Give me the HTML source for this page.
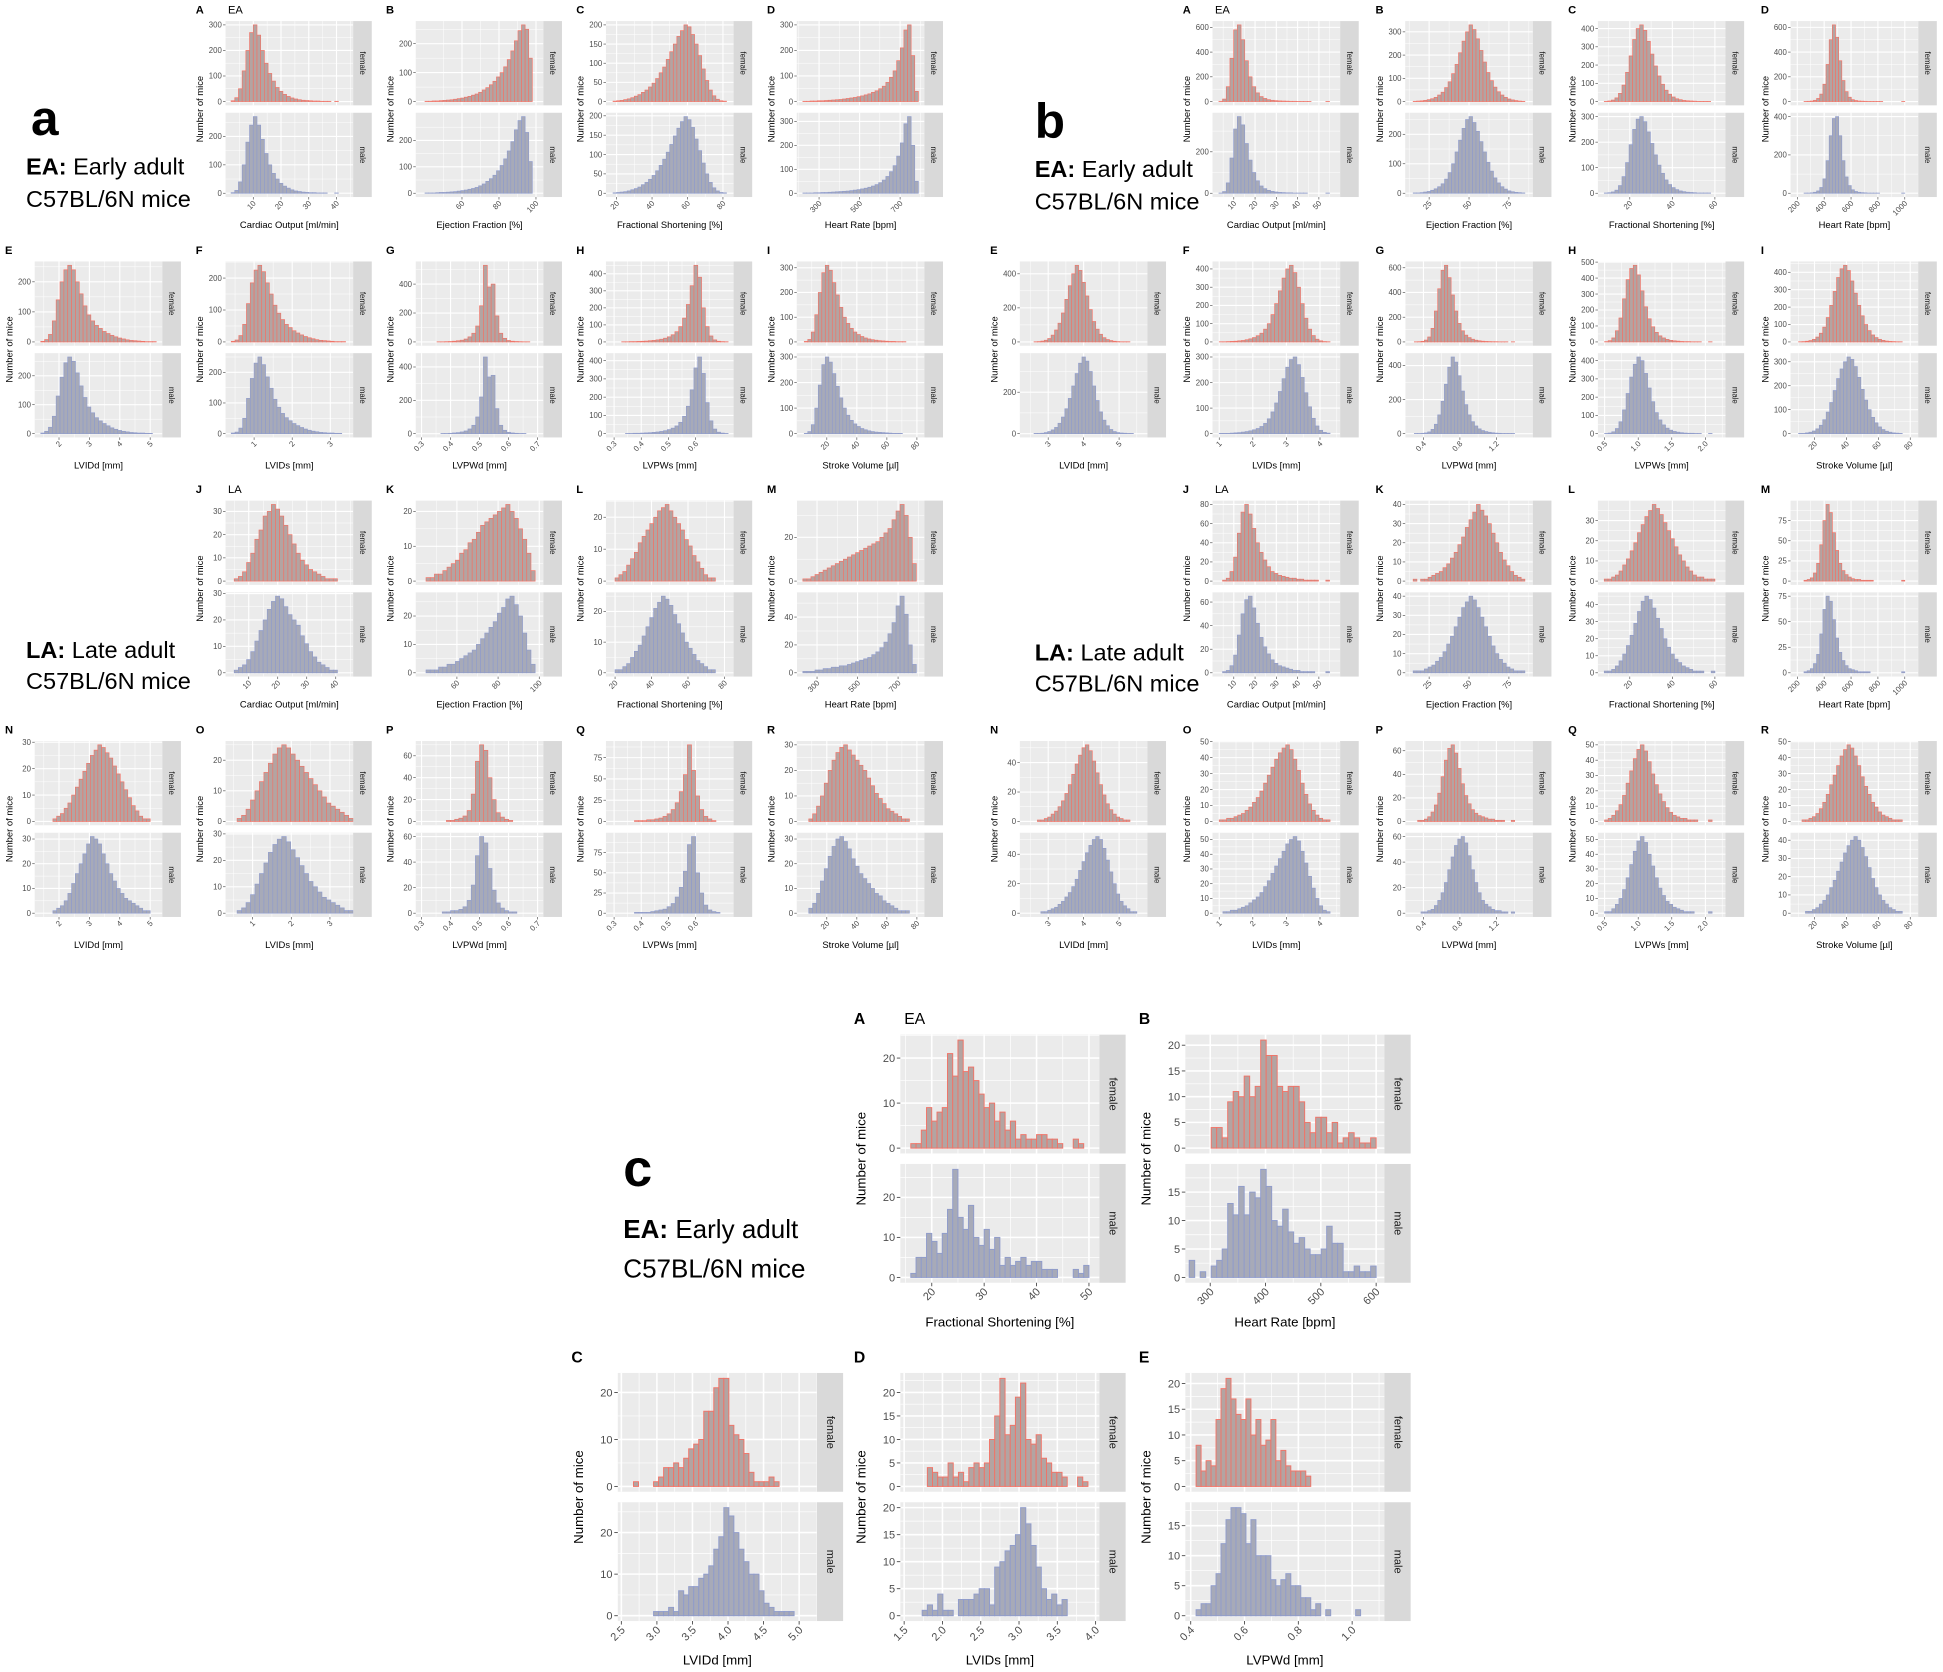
<!DOCTYPE html>
<html><head><meta charset="utf-8"><style>
html,body{margin:0;padding:0;background:#fff;}
svg{display:block;font-family:"Liberation Sans",sans-serif;}
</style></head><body>
<svg id="chart" width="1943" height="1672" viewBox="0 0 1568 1349.3" xmlns="http://www.w3.org/2000/svg">
<g font-family="Liberation Sans, sans-serif" fill="#000">
<text x="25" y="109" font-size="40" font-weight="bold">a</text>
<text x="21" y="141" font-size="19"><tspan font-weight="bold">EA:</tspan> Early adult</text>
<text x="21" y="167" font-size="19">C57BL/6N mice</text>
<text x="21" y="531" font-size="19"><tspan font-weight="bold">LA:</tspan> Late adult</text>
<text x="21" y="556" font-size="19">C57BL/6N mice</text>
<text x="835" y="111" font-size="40" font-weight="bold">b</text>
<text x="835" y="143" font-size="19"><tspan font-weight="bold">EA:</tspan> Early adult</text>
<text x="835" y="169" font-size="19">C57BL/6N mice</text>
<text x="835" y="533" font-size="19"><tspan font-weight="bold">LA:</tspan> Late adult</text>
<text x="835" y="558" font-size="19">C57BL/6N mice</text>
<text x="503" y="957" font-size="42" font-weight="bold">c</text>
<text x="503" y="999" font-size="21"><tspan font-weight="bold">EA:</tspan> Early adult</text>
<text x="503" y="1031" font-size="21">C57BL/6N mice</text>
</g>
</svg>
<script>
// ---------- data: section a, EA ----------
const aA_f=[3,15,50,120,200,270,300,260,200,150,110,80,55,40,28,20,14,10,7,5,4,3,2,2,1,1,1,0,1,0];
const aA_m=[2,10,40,100,180,240,270,240,190,140,100,70,50,35,25,18,12,8,6,4,3,2,2,1,1,1,0,0,1,0];
const aB_f=[1,1,2,2,3,4,5,6,8,10,12,15,18,22,26,32,40,48,58,70,85,100,120,145,175,210,245,265,250,150];
const aB_m=[1,1,1,2,3,3,4,5,6,8,10,12,15,18,22,28,35,45,55,68,85,105,130,160,195,240,275,290,230,120];
const aC_f=[1,2,3,5,7,10,14,18,24,30,38,48,60,75,90,110,130,150,170,185,200,195,175,150,120,85,55,30,15,6,2,1];
const aC_m=[1,2,3,4,6,9,12,16,22,28,36,46,58,72,88,106,126,148,168,185,198,190,170,140,110,78,50,28,14,6,2,1];
const aD_f=[1,1,2,2,3,3,4,5,6,7,8,10,12,14,16,19,22,26,30,36,42,50,60,75,95,120,160,210,280,300,180,40];
const aD_m=[1,1,1,2,2,3,3,4,5,6,7,8,9,11,13,15,18,21,25,30,36,44,55,70,90,115,155,210,290,320,200,50];
const aE_f=[2,8,25,70,140,200,240,255,240,200,160,120,90,70,55,45,35,28,22,17,13,10,7,5,4,3,2,1,1,1];
const aE_m=[2,8,22,60,130,195,245,265,250,210,165,125,92,72,55,44,35,27,20,15,11,8,6,4,3,2,2,1,1,0];
const aF_f=[2,6,20,55,120,185,225,240,220,185,150,115,90,70,55,45,35,28,22,17,13,10,7,5,4,3,2,1,1,1];
const aF_m=[2,5,18,50,115,180,230,250,225,185,148,112,86,66,52,42,33,26,20,15,11,8,6,4,3,2,2,1,1,0];
const aG_f=[0,0,0,0,1,1,2,3,5,8,12,20,35,60,110,250,530,380,400,180,60,25,10,5,3,2,1,1,0,0];
const aG_m=[0,0,0,0,0,1,1,2,4,6,10,16,28,50,100,220,460,340,350,150,50,20,8,4,2,1,1,0,0,0];
const aH_f=[0,0,1,1,2,2,3,4,5,7,9,12,16,22,30,42,60,90,140,220,330,450,380,200,90,35,12,4,2,1];
const aH_m=[0,0,0,1,1,2,2,3,4,5,7,9,12,16,22,30,42,62,95,150,240,360,420,330,170,70,25,8,3,1];
const aI_f=[2,10,40,110,200,280,310,290,240,190,140,100,75,55,40,30,22,16,12,9,7,5,4,3,2,2,1,1,1,0];
const aI_m=[1,8,35,100,190,270,300,280,235,185,140,100,72,52,38,28,20,15,11,8,6,5,4,3,2,1,1,1,0,0];
// section a, LA
const aJ_f=[1,2,4,8,12,18,22,28,30,33,31,28,24,20,16,12,9,7,5,4,3,2,1,1,1,0];
const aJ_m=[1,2,3,5,8,12,16,20,24,27,29,28,25,22,20,18,14,11,8,6,4,3,2,1,1,0];
const aK_f=[1,1,2,2,3,4,5,6,8,9,11,12,14,16,17,18,19,20,21,22,20,18,15,12,8,3];
const aK_m=[1,1,1,2,2,3,3,4,5,6,7,8,10,12,14,16,18,21,23,26,27,24,20,14,8,3];
const aL_f=[1,2,3,5,7,9,12,14,16,18,20,22,23,24,22,20,18,16,13,11,8,6,4,2,1,1];
const aL_m=[1,1,2,3,5,7,9,12,15,18,21,23,25,24,22,19,16,13,10,8,6,4,3,2,1,1];
const aM_f=[1,1,2,3,4,5,6,7,8,9,10,11,12,13,14,15,16,17,18,20,22,24,28,32,35,30,20,8];
const aM_m=[1,1,1,2,2,3,3,4,4,5,5,6,7,8,9,10,11,13,15,18,22,28,36,48,55,42,20,6];
const aN_f=[1,2,3,5,7,10,13,16,19,22,25,27,29,28,26,24,21,18,15,12,9,6,4,2,1,1];
const aN_m=[1,2,3,5,8,12,16,20,24,28,31,30,28,24,20,16,13,10,8,6,5,4,3,2,1,1];
const aO_f=[1,2,4,7,10,13,16,19,22,24,25,24,22,20,18,16,14,12,10,8,6,5,4,3,2,1];
const aO_m=[1,2,4,7,11,15,19,23,26,28,29,27,24,21,18,15,12,10,8,6,5,4,3,2,1,1];
const aP_f=[0,0,0,0,0,0,1,1,2,3,5,10,25,55,70,65,40,20,8,4,2,1,0,0,0,0,0,0];
const aP_m=[0,0,0,0,0,1,1,2,2,3,5,10,22,45,60,55,35,18,8,4,2,1,1,0,0,0,0,0];
const aQ_f=[0,0,0,0,0,1,1,1,2,2,3,4,6,9,14,22,35,55,90,60,30,14,6,3,1,0,0,0];
const aQ_m=[0,0,0,0,0,1,1,1,1,2,3,4,5,8,12,20,32,52,85,95,50,25,10,4,2,1,0,0];
const aR_f=[1,3,6,10,15,20,24,27,29,30,28,26,24,22,20,17,14,11,9,7,5,4,3,2,1,1];
const aR_m=[2,4,8,13,18,23,27,30,31,29,26,22,19,16,14,12,10,8,7,5,4,3,2,1,1,1];
// ---------- section b, EA ----------
const bA_f=[2,20,120,350,580,620,500,330,200,120,70,40,25,15,10,7,5,4,3,2,2,1,1,1,1,0,0,0,0,1];
const bA_m=[1,8,50,170,310,370,330,240,160,100,60,35,22,14,9,6,4,3,2,2,1,1,1,1,0,0,0,0,0,1];
const bB_f=[1,2,3,5,8,12,18,28,40,60,85,120,160,210,260,300,330,310,270,220,170,125,90,62,42,28,18,11,7,4,2,1];
const bB_m=[1,1,2,4,6,10,15,22,32,48,70,100,140,180,220,250,260,240,210,175,140,105,75,52,35,22,14,8,5,3,2,1];
const bC_f=[1,3,8,20,45,90,160,250,340,400,420,390,330,260,195,140,95,62,40,25,15,10,6,4,3,2,1,1,1,1];
const bC_m=[1,2,5,12,30,65,120,190,250,290,300,280,240,195,150,110,78,52,34,22,14,9,6,4,3,2,1,1,1,1];
const bD_f=[1,2,4,10,25,60,140,300,500,620,520,330,170,80,35,15,8,4,3,2,1,1,1,1,1,0,0,0,0,0,0,1];
const bD_m=[1,1,2,5,12,30,75,170,300,390,400,300,170,85,40,18,9,5,3,2,1,1,1,1,0,0,0,0,0,0,0,1];
const bE_f=[1,2,5,10,20,40,70,110,170,250,330,400,450,420,350,270,190,120,75,45,25,14,8,4,2,1,1,1,0,0];
const bE_m=[1,1,2,5,10,18,30,50,80,120,170,230,290,340,370,350,300,230,160,105,65,38,20,10,5,3,2,1,1,0];
const bF_f=[1,1,2,3,4,6,8,12,17,24,34,48,70,100,150,210,280,350,400,420,380,300,210,130,70,35,15,6,2,1];
const bF_m=[1,1,1,2,3,4,6,8,11,15,20,28,40,58,85,120,165,215,260,290,300,270,220,160,105,60,30,13,5,2];
const bG_f=[1,2,5,15,40,110,250,430,580,620,520,380,250,150,90,55,35,22,14,9,6,4,3,2,2,1,1,1,0,1];
const bG_m=[1,1,2,4,10,25,55,110,190,290,390,450,420,340,250,170,110,70,45,28,18,12,8,5,3,2,1,1,1,1];
const bH_f=[2,8,25,70,150,270,390,460,480,420,320,220,145,95,60,38,25,16,10,7,5,3,2,2,1,1,1,0,0,1];
const bH_m=[1,3,10,28,65,130,220,310,380,420,400,330,250,175,115,75,48,30,19,12,8,5,3,2,2,1,1,0,0,1];
const bI_f=[1,2,4,8,15,28,50,85,140,210,290,370,420,440,410,350,280,210,150,100,65,40,25,15,9,5,3,2,1,1];
const bI_m=[1,1,3,6,11,20,35,58,90,130,180,230,270,300,320,310,280,235,185,140,100,68,45,28,17,10,6,3,2,1];
// section b, LA
const bJ_f=[0,1,3,10,25,50,72,80,70,55,40,30,22,15,10,8,6,5,4,3,3,2,2,1,1,1,1,0,0,1];
const bJ_m=[0,1,2,6,15,32,50,62,65,55,42,30,22,16,11,8,6,5,4,3,2,2,1,1,1,1,0,0,0,1];
const bK_f=[1,0,1,1,2,3,4,5,7,9,12,15,19,23,28,32,36,40,37,34,30,25,20,15,11,8,5,3,2,1];
const bK_m=[1,1,1,2,3,4,6,8,11,15,19,24,29,34,37,40,38,34,29,24,19,14,10,7,5,3,2,1,1,1];
const bL_f=[1,1,2,3,5,8,11,15,19,24,28,32,35,38,36,33,29,25,21,17,13,10,7,5,3,2,2,1,1,1];
const bL_m=[1,1,2,4,7,11,16,22,29,36,42,45,43,38,32,26,20,15,11,8,6,4,3,2,1,1,1,0,0,1];
const bM_f=[1,2,4,10,22,45,75,95,85,60,38,22,13,8,5,3,2,2,1,1,1,1,0,0,0,0,0,0,0,0,0,1];
const bM_m=[1,2,4,9,18,38,62,75,70,52,34,20,12,7,4,3,2,1,1,1,1,0,0,0,0,0,0,0,0,0,0,1];
const bN_f=[0,1,1,2,3,5,7,10,14,19,25,32,39,45,50,52,48,41,33,25,18,12,8,5,3,2,1,1,0,0];
const bN_m=[0,0,1,1,2,3,4,6,8,11,14,18,23,29,35,41,46,50,52,50,44,36,28,20,13,8,5,3,1,1];
const bO_f=[1,1,2,2,3,4,5,7,9,12,15,19,24,29,34,39,43,46,48,45,39,32,24,17,11,7,4,2,1,1];
const bO_m=[0,1,1,2,2,3,4,5,7,9,11,14,18,22,27,32,37,42,47,50,52,49,42,34,25,17,10,5,2,1];
const bP_f=[0,1,1,2,4,8,14,24,38,52,62,65,58,45,32,22,15,10,7,5,4,3,2,2,1,1,1,0,0,1];
const bP_m=[0,0,1,1,2,3,6,10,16,24,34,44,53,58,60,55,45,34,24,16,10,7,5,3,2,2,1,1,0,1];
const bQ_f=[1,2,4,7,11,17,25,33,41,47,50,46,39,31,24,18,13,9,6,4,3,2,2,1,1,1,0,0,0,1];
const bQ_m=[1,1,3,6,10,16,24,33,42,49,52,48,40,32,24,17,12,8,6,4,3,2,1,1,1,0,0,0,0,1];
const bR_f=[0,1,1,2,3,5,8,12,17,23,29,35,41,45,48,46,41,35,28,22,17,12,9,6,4,3,2,1,1,1];
const bR_m=[0,0,1,1,2,3,5,7,10,14,18,23,28,33,37,40,42,40,36,31,25,19,14,10,7,5,3,2,1,1];
// ---------- section c ----------
const cA_f=[1,1,4,9,6,8,9,21,16,24,17,18,15,12,9,10,6,8,4,6,2,3,2,2,3,3,2,2,1,0,0,2,1,0];
const cA_m=[1,5,5,11,9,6,11,17,27,15,12,18,10,8,12,7,10,3,5,3,4,5,3,4,4,2,2,2,0,0,0,2,1,3];
const cB_f=[0,0,0,0,4,4,2,9,11,10,14,10,12,21,18,18,12,11,12,12,9,5,3,6,6,3,5,1,2,3,2,1,1,2];
const cB_m=[3,0,1,0,2,3,5,13,11,16,11,15,14,19,16,10,9,12,8,6,7,5,4,4,5,9,6,6,1,1,2,1,1,2];
const cC_f=[0,1,0,0,0,1,2,4,4,5,4,6,8,9,10,16,16,21,23,23,13,11,10,7,3,1,1,1,2,1,0,0,0,0];
const cC_m=[0,0,0,0,0,1,1,1,2,1,6,5,7,7,9,10,12,16,19,26,24,20,16,13,10,10,6,3,2,1,1,1,1,0];
const cD_f=[0,0,0,4,3,2,2,5,2,3,1,4,5,4,5,10,15,23,11,13,19,22,10,9,11,6,5,3,3,2,0,0,2,1];
const cD_m=[0,0,1,2,1,4,1,1,0,3,3,3,4,5,5,2,9,10,12,13,15,20,17,13,9,5,3,4,2,3,0,0,0,0];
const cE_f=[8,3,5,4,13,19,21,17,14,13,17,10,13,8,9,13,5,7,4,3,3,3,2,0,0,0,0,0,0,0,0,0,0,0];
const cE_m=[1,2,2,5,7,12,16,18,18,17,12,16,10,10,10,6,5,6,7,5,5,3,3,1,2,0,1,0,0,0,0,0,1,0];

// ---------- tick arrays ----------
const T={
 t100_300:[0,100,200,300], t100_200:[0,100,200], t50_200:[0,50,100,150,200], t200_400:[0,200,400],
 t100_400:[0,100,200,300,400], t10_30:[0,10,20,30], t10_20:[0,10,20], t20_40:[0,20,40], t20_60:[0,20,40,60],
 t25_75:[0,25,50,75], t200_600:[0,200,400,600], t100_500:[0,100,200,300,400,500], t20_80:[0,20,40,60,80],
 t10_40:[0,10,20,30,40], t10_50:[0,10,20,30,40,50], t5_20:[0,5,10,15,20]
};
const xt_co=[10,20,30,40], xt_ef=[60,80,100], xt_fs=[20,40,60,80], xt_hr=[300,500,700], xt_lvidd=[2,3,4,5],
 xt_lvids=[1,2,3], xt_lvpwd=[0.3,0.4,0.5,0.6,0.7], xt_lvpws=[0.3,0.4,0.5,0.6], xt_sv=[20,40,60,80];
const xb_co=[10,20,30,40,50], xb_ef=[25,50,75], xb_fs=[20,40,60], xb_hr=[200,400,600,800,1000], xb_lvidd=[3,4,5],
 xb_lvids=[1,2,3,4], xb_lvpwd=[0.4,0.8,1.2], xb_lvpws=[0.5,1.0,1.5,2.0], xb_sv=[20,40,60,80];
const xc_fs=[20,30,40,50], xc_hr=[300,400,500,600], xc_lvidd=[2.5,3.0,3.5,4.0,4.5,5.0], xc_lvids=[1.5,2.0,2.5,3.0,3.5,4.0], xc_lvpwd=[0.4,0.6,0.8,1.0];

const XL={co:'Cardiac Output [ml/min]',ef:'Ejection Fraction [%]',fs:'Fractional Shortening [%]',hr:'Heart Rate [bpm]',
 lvidd:'LVIDd [mm]',lvids:'LVIDs [mm]',lvpwd:'LVPWd [mm]',lvpws:'LVPWs [mm]',sv:'Stroke Volume [µl]'};

// ---------- layout ----------
const ac=[2,156,309.5,463,617], bc=[797,952.5,1108,1263.5,1419], rows=[0,194,387,581];
const panels=[];
function add(sec,letter,group,x0,y0,sx,sy,xk,xt,dom,bins,f,m,ft,mt,dec){
  panels.push({sec,letter,group,x0,y0,sx,sy,xk,xt,dom,bins,f,m,ft,mt,dec:dec||0});
}
// a EA
add('a','A','EA',ac[1],rows[0],1,1,'co',xt_co,[0,46],[2,42],aA_f,aA_m,T.t100_300,T.t100_300);
add('a','B','',ac[2],rows[0],1,1,'ef',xt_ef,[35,104],[40,98],aB_f,aB_m,T.t100_200,T.t100_200);
add('a','C','',ac[3],rows[0],1,1,'fs',xt_fs,[14,86],[18,82],aC_f,aC_m,T.t50_200,T.t50_200);
add('a','D','',ac[4],rows[0],1,1,'hr',xt_hr,[190,820],[220,790],aD_f,aD_m,T.t100_300,T.t100_300);
add('a','E','',ac[0],rows[1],1,1,'lvidd',xt_lvidd,[1.2,5.4],[1.4,5.2],aE_f,aE_m,T.t100_200,T.t100_200);
add('a','F','',ac[1],rows[1],1,1,'lvids',xt_lvids,[0.25,3.6],[0.4,3.4],aF_f,aF_m,T.t100_200,T.t100_200);
add('a','G','',ac[2],rows[1],1,1,'lvpwd',xt_lvpwd,[0.28,0.72],[0.3,0.7],aG_f,aG_m,T.t200_400,T.t200_400,1);
add('a','H','',ac[3],rows[1],1,1,'lvpws',xt_lvpws,[0.27,0.74],[0.3,0.72],aH_f,aH_m,T.t100_400,T.t100_400,1);
add('a','I','',ac[4],rows[1],1,1,'sv',xt_sv,[0,85],[5,75],aI_f,aI_m,T.t100_300,T.t100_300);
// a LA
add('a','J','LA',ac[1],rows[2],1,1,'co',xt_co,[2,46],[5,42],aJ_f,aJ_m,T.t10_30,T.t10_30);
add('a','K','',ac[2],rows[2],1,1,'ef',xt_ef,[40,102],[45,98],aK_f,aK_m,T.t10_20,T.t10_20);
add('a','L','',ac[3],rows[2],1,1,'fs',xt_fs,[15,85],[20,75],aL_f,aL_m,T.t10_20,T.t10_20);
add('a','M','',ac[4],rows[2],1,1,'hr',xt_hr,[200,830],[230,790],aM_f,aM_m,T.t20_40,T.t20_40);
add('a','N','',ac[0],rows[3],1,1,'lvidd',xt_lvidd,[1.2,5.4],[1.8,5],aN_f,aN_m,T.t10_30,T.t10_30);
add('a','O','',ac[1],rows[3],1,1,'lvids',xt_lvids,[0.3,3.6],[0.6,3.6],aO_f,aO_m,T.t10_30,T.t10_30);
add('a','P','',ac[2],rows[3],1,1,'lvpwd',xt_lvpwd,[0.28,0.72],[0.3,0.7],aP_f,aP_m,T.t20_60,T.t20_60,1);
add('a','Q','',ac[3],rows[3],1,1,'lvpws',xt_lvpws,[0.27,0.74],[0.3,0.72],aQ_f,aQ_m,T.t25_75,T.t25_75,1);
add('a','R','',ac[4],rows[3],1,1,'sv',xt_sv,[0,85],[8,75],aR_f,aR_m,T.t10_30,T.t10_30);
// b EA
add('b','A','EA',bc[1],rows[0],1,1,'co',xb_co,[0,60],[3,55],bA_f,bA_m,T.t200_600,T.t200_600);
add('b','B','',bc[2],rows[0],1,1,'ef',xb_ef,[10,90],[15,85],bB_f,bB_m,T.t100_300,T.t100_300);
add('b','C','',bc[3],rows[0],1,1,'fs',xb_fs,[5,65],[8,58],bC_f,bC_m,T.t100_400,T.t100_400);
add('b','D','',bc[4],rows[0],1,1,'hr',xb_hr,[150,1100],[250,1000],bD_f,bD_m,T.t200_600,T.t200_600);
add('b','E','',bc[0],rows[1],1,1,'lvidd',xb_lvidd,[2.2,5.8],[2.6,5.5],bE_f,bE_m,T.t200_400,T.t200_400);
add('b','F','',bc[1],rows[1],1,1,'lvids',xb_lvids,[0.8,4.6],[1,4.3],bF_f,bF_m,T.t100_400,T.t100_400);
add('b','G','',bc[2],rows[1],1,1,'lvpwd',xb_lvpwd,[0.2,1.6],[0.3,1.4],bG_f,bG_m,T.t200_600,T.t200_600,1);
add('b','H','',bc[3],rows[1],1,1,'lvpws',xb_lvpws,[0.4,2.3],[0.5,2.1],bH_f,bH_m,T.t100_500,T.t100_500,1);
add('b','I','',bc[4],rows[1],1,1,'sv',xb_sv,[5,85],[10,75],bI_f,bI_m,T.t100_400,T.t100_400);
// b LA
add('b','J','LA',bc[1],rows[2],1,1,'co',xb_co,[0,60],[3,55],bJ_f,bJ_m,T.t20_80,T.t20_80);
add('b','K','',bc[2],rows[2],1,1,'ef',xb_ef,[10,90],[15,85],bK_f,bK_m,T.t10_40,T.t10_40);
add('b','L','',bc[3],rows[2],1,1,'fs',xb_fs,[5,65],[8,60],bL_f,bL_m,T.t10_40,T.t10_40);
add('b','M','',bc[4],rows[2],1,1,'hr',xb_hr,[150,1100],[250,1000],bM_f,bM_m,T.t25_75,T.t25_75);
add('b','N','',bc[0],rows[3],1,1,'lvidd',xb_lvidd,[2.2,5.8],[2.6,5.5],bN_f,bN_m,T.t20_40,T.t20_40);
add('b','O','',bc[1],rows[3],1,1,'lvids',xb_lvids,[0.8,4.6],[1,4.3],bO_f,bO_m,T.t10_50,T.t10_50);
add('b','P','',bc[2],rows[3],1,1,'lvpwd',xb_lvpwd,[0.2,1.6],[0.3,1.4],bP_f,bP_m,T.t20_60,T.t20_60,1);
add('b','Q','',bc[3],rows[3],1,1,'lvpws',xb_lvpws,[0.4,2.3],[0.5,2.1],bQ_f,bQ_m,T.t10_50,T.t10_50,1);
add('b','R','',bc[4],rows[3],1,1,'sv',xb_sv,[5,85],[10,75],bR_f,bR_m,T.t10_50,T.t10_50);
// c
add('c','A','EA',686,811,1.56,1.41,'fs',xc_fs,[14,52],[16,50],cA_f,cA_m,T.t10_20,T.t10_20);
add('c','B','',916,811,1.56,1.41,'hr',xc_hr,[255,615],[262,600],cB_f,cB_m,T.t5_20,T.t5_20);
add('c','C','',458,1084,1.56,1.41,'lvidd',xc_lvidd,[2.45,5.25],[2.6,5.0],cC_f,cC_m,T.t10_20,T.t10_20,1);
add('c','D','',686,1084,1.56,1.41,'lvids',xc_lvids,[1.45,4.05],[1.6,3.9],cD_f,cD_m,T.t5_20,T.t5_20,1);
add('c','E','',916,1084,1.56,1.41,'lvpwd',xc_lvpwd,[0.38,1.12],[0.42,1.05],cE_f,cE_m,T.t5_20,T.t5_20,1);

// ---------- drawing ----------
const NS='http://www.w3.org/2000/svg';
const svg=document.getElementById('chart');
function mk(tag,parent){const e=document.createElementNS(NS,tag);parent.appendChild(e);return e;}
function at(e,o){for(const k in o)e.setAttribute(k,o[k]);return e;}

panels.forEach(p=>{
  const {x0,y0,sx,sy}=p;
  const fs=Math.min(sx,sy);
  const g=mk('g',svg);
  
  
  const L=x0+26*sx, R=x0+129*sx, S=R+15*fs;
  const xs=v=>L+(v-p.dom[0])/(p.dom[1]-p.dom[0])*(R-L);
  // panel letter
  const lt=mk('text',g); at(lt,{x:x0+2*sx,y:y0+11*sy,'font-size':9*fs,'font-weight':'bold',fill:'#000'}); lt.textContent=p.letter;
  
  
  if(p.group){
    const gt=mk('text',g); at(gt,{x:x0+28*sx,y:y0+11*sy,'font-size':9*fs,fill:'#000'}); gt.textContent=p.group;
    
    
  }
  const facets=[{name:'female',top:y0+17*sy,bot:y0+85*sy,data:p.f,ticks:p.ft,fill:'#B3A4A2',stroke:'#F07468'},
                {name:'male',top:y0+91*sy,bot:y0+159*sy,data:p.m,ticks:p.mt,fill:'#A7AAB8',stroke:'#909CCB'}];
  facets.forEach(fc=>{
    const fg=mk('g',g);
    
    
    const bg=mk('rect',fg); at(bg,{x:L,y:fc.top,width:R-L,height:fc.bot-fc.top,fill:'#EBEBEB'});
    
    
    const h=fc.bot-fc.top, base=fc.bot-0.045*h;
    const dmax=Math.max(...fc.data)*1.05;
    const ys=v=>base-v/dmax*(base-fc.top-0.0*h);
    // grid
    const xt=p.xt, step=xt[1]-xt[0];
    const mins=[]; for(let v=xt[0]-step/2; v<=p.dom[1]; v+=step) if(v>=p.dom[0]) mins.push(v);
    mins.forEach(v=>{const l=mk('line',fg);at(l,{x1:xs(v),x2:xs(v),y1:fc.top,y2:fc.bot,stroke:'#fff','stroke-width':0.4*fs});});
    xt.forEach(v=>{const l=mk('line',fg);at(l,{x1:xs(v),x2:xs(v),y1:fc.top,y2:fc.bot,stroke:'#fff','stroke-width':0.9*fs});});
    const yt=fc.ticks, ystep=yt[1]-yt[0];
    for(let v=ystep/2; v<dmax; v+=ystep){const l=mk('line',fg);at(l,{x1:L,x2:R,y1:ys(v),y2:ys(v),stroke:'#fff','stroke-width':0.4*fs});}
    yt.forEach(v=>{ if(v>dmax) return;
      const l=mk('line',fg);at(l,{x1:L,x2:R,y1:ys(v),y2:ys(v),stroke:'#fff','stroke-width':0.9*fs});
      const tk=mk('line',fg);at(tk,{x1:L-2*fs,x2:L,y1:ys(v),y2:ys(v),stroke:'#444','stroke-width':0.5*fs});
      const t=mk('text',fg);at(t,{x:L-3*fs,y:ys(v)+2.2*fs,'text-anchor':'end','font-size':6.3*fs,fill:'#4D4D4D'});t.textContent=v;
      
      
    });
    // bars
    const n=fc.data.length, bw=(p.bins[1]-p.bins[0])/n;
    fc.data.forEach((v,i)=>{
      const r=mk('rect',fg);
      const xa=xs(p.bins[0]+i*bw), xb=xs(p.bins[0]+(i+1)*bw);
      at(r,{x:xa,y:ys(v),width:xb-xa,height:base-ys(v),fill:fc.fill,stroke:fc.stroke,'stroke-width':0.55*fs});
      
      
    });
    // strip
    const st=mk('rect',fg); at(st,{x:R,y:fc.top,width:S-R,height:fc.bot-fc.top,fill:'#D9D9D9'});
    
    
    const cx=(R+S)/2, cy=(fc.top+fc.bot)/2;
    const stt=mk('text',fg); at(stt,{x:cx,y:cy,'text-anchor':'middle','dominant-baseline':'central','font-size':6.3*fs,fill:'#1A1A1A',transform:`rotate(90 ${cx} ${cy})`});
    stt.textContent=fc.name;
    
    
  });
  // x ticks
  const mb=facets[1].bot;
  p.xt.forEach(v=>{
    const tk=mk('line',g);at(tk,{x1:xs(v),x2:xs(v),y1:mb,y2:mb+2*sy,stroke:'#444','stroke-width':0.5*fs});
    const tx=xs(v)+2.5*fs, ty=mb+5.5*sy;
    const t=mk('text',g);at(t,{x:tx,y:ty,'text-anchor':'end','font-size':6.3*fs,fill:'#4D4D4D',transform:`rotate(-45 ${tx} ${ty})`});
    t.textContent=p.dec?v.toFixed(1):String(v);
    
    
  });
  const xtl=mk('text',g);at(xtl,{x:(L+R)/2,y:y0+184*sy,'text-anchor':'middle','font-size':7.6*fs,fill:'#000'});
  xtl.textContent=XL[p.xk];
  
  
  const yx=x0+8*sx, yy=y0+88*sy;
  const ytl=mk('text',g);at(ytl,{x:yx,y:yy,'text-anchor':'middle','font-size':7.6*fs,fill:'#000',transform:`rotate(-90 ${yx} ${yy})`});
  ytl.textContent='Number of mice';
  
  
});
</script>
</body></html>
